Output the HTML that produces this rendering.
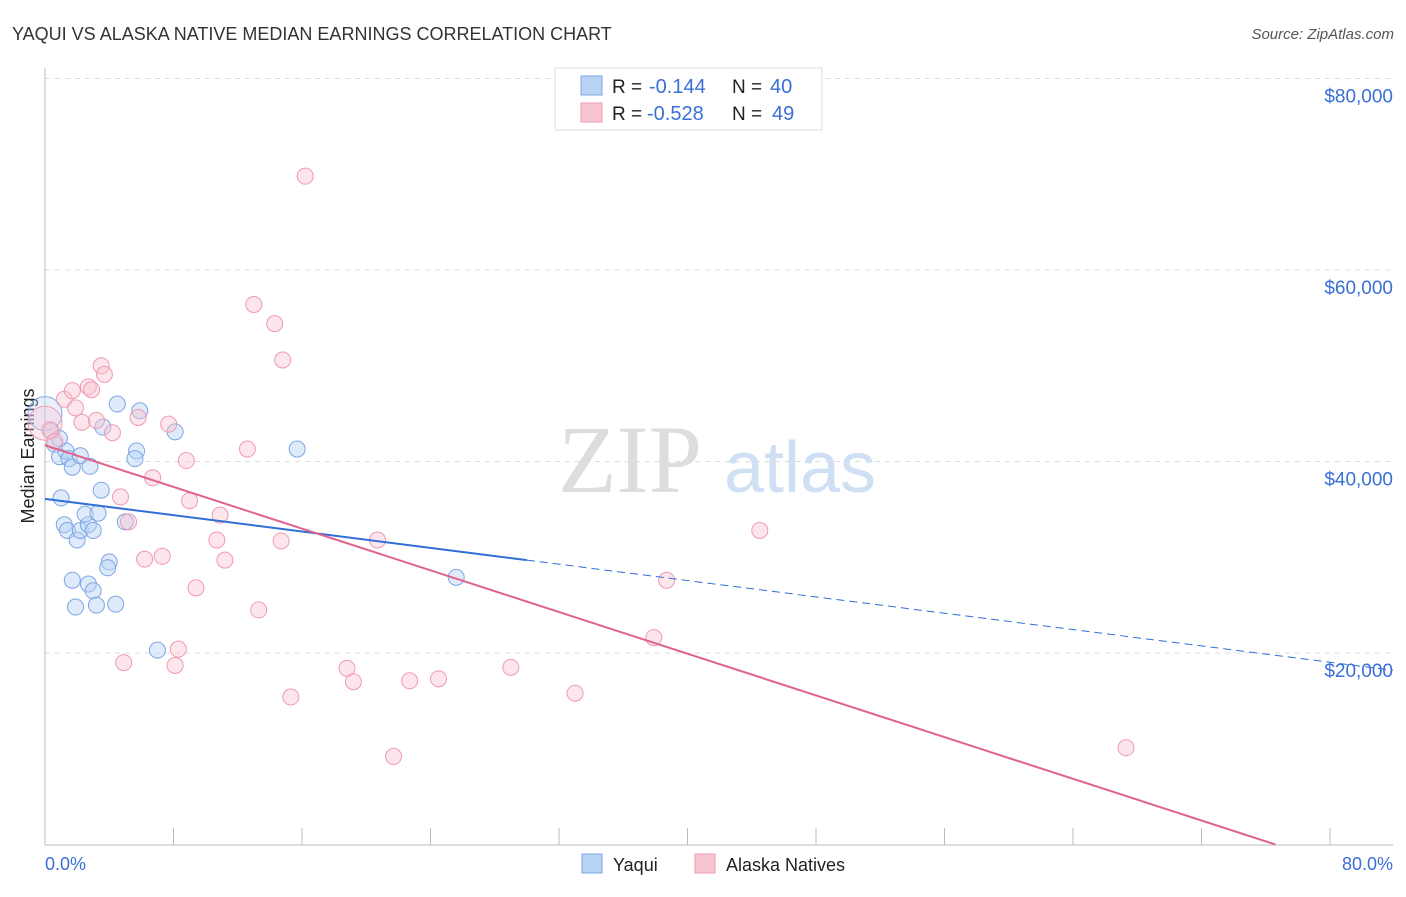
<!DOCTYPE html>
<html><head><meta charset="utf-8"><style>
body{margin:0;background:#fff;font-family:"Liberation Sans",sans-serif}
</style></head><body>
<svg width="1406" height="892" xmlns="http://www.w3.org/2000/svg" font-family="Liberation Sans, sans-serif">
<text x="12" y="40" font-size="18" fill="#333">YAQUI VS ALASKA NATIVE MEDIAN EARNINGS CORRELATION CHART</text>
<text x="1394" y="39" font-size="15" fill="#555" font-style="italic" text-anchor="end">Source: ZipAtlas.com</text>
<g id="grid"></g>
<text x="630" y="492" font-size="96" fill="#ddd" font-family="Liberation Serif, serif" text-anchor="middle">ZIP</text>
<text x="800" y="492" font-size="72" fill="#cfe0f4" text-anchor="middle">atlas</text>
<line x1="45" y1="68" x2="45" y2="845" stroke="#bbb"/>
<line x1="45" y1="845" x2="1393" y2="845" stroke="#bbb"/>
<text x="34" y="456" font-size="18" fill="#222" text-anchor="middle" transform="rotate(-90 34 456)">Median Earnings</text>
<text x="45" y="870" font-size="18" fill="#3a6fd8">0.0%</text>
<text x="1393" y="870" font-size="18" fill="#3a6fd8" text-anchor="end">80.0%</text>
<g id="marks"></g>
<g>
<rect x="555" y="68" width="267" height="62" fill="#fff" stroke="#ddd"/>
<rect x="581" y="76" width="21" height="19" fill="#b9d3f5" stroke="#7da6e5"/>
<rect x="581" y="103" width="21" height="19" fill="#f9c5d3" stroke="#ef9ab3"/>
<text x="612" y="93" font-size="19" fill="#222">R =</text>
<text x="649" y="93" font-size="20" fill="#3a6fd8">-0.144</text>
<text x="732" y="93" font-size="19" fill="#222">N =</text>
<text x="770" y="93" font-size="20" fill="#3a6fd8">40</text>
<text x="612" y="120" font-size="19" fill="#222">R =</text>
<text x="647" y="120" font-size="20" fill="#3a6fd8">-0.528</text>
<text x="732" y="120" font-size="19" fill="#222">N =</text>
<text x="772" y="120" font-size="20" fill="#3a6fd8">49</text>
</g>
<g>
<rect x="582" y="854" width="20" height="19" fill="#b9d3f5" stroke="#7da6e5"/>
<text x="613" y="871" font-size="18" fill="#222">Yaqui</text>
<rect x="695" y="854" width="20" height="19" fill="#f9c5d3" stroke="#ef9ab3"/>
<text x="726" y="871" font-size="18" fill="#222">Alaska Natives</text>
</g>
</svg>
<script>
const yTicks=[20000,40000,60000,80000];
const yTickLabels=["$20,000","$40,000","$60,000","$80,000"];
const xTicks=[0,8,16,24,32,40,48,56,64,72,80];
const yaquiX=[0,0.4,0.6,0.9,1.3,1.5,1.7,2.2,2.8,1.0,1.2,1.4,2.0,2.2,2.7,2.5,3.0,3.3,3.5,3.6,4.5,5.9,5.7,5.6,8.1,5.0,4.0,3.9,1.7,2.7,3.0,1.9,3.2,4.4,7.0,15.7,25.6,0.9];
const yaquiY=[45000,43200,41800,40500,41100,40300,39400,40600,39500,36200,33400,32800,31800,32800,33400,34500,32800,34600,37000,43600,46000,45300,41100,40300,43100,33700,29500,28900,27600,27200,26500,24800,25000,25100,20300,41300,27900,42400];
const alaskaX=[0,0.3,0.6,1.2,1.7,1.9,2.3,2.7,2.9,3.2,3.5,3.7,4.2,4.7,4.9,5.2,5.8,6.2,6.7,7.3,7.7,8.1,8.3,8.8,9.0,9.4,10.7,10.9,11.2,12.6,13.0,13.3,14.3,14.8,14.7,15.3,16.2,18.8,19.2,20.7,21.7,22.7,24.5,29.0,33.0,37.9,38.7,44.5,67.3];
const alaskaY=[44000,43300,42100,46500,47400,45600,44100,47800,47500,44300,50000,49100,43000,36300,19000,33700,44600,29800,38300,30100,43900,18700,20400,40100,35900,26800,31800,34400,29700,41300,56400,24500,54400,50600,31700,15400,69800,18400,17000,31800,9200,17100,17300,18500,15800,21600,27600,32800,10100];
const yaquiLine=[36100,29700];const yaquiLineX=[0,30];
const alaskaLine=[41700,0];const alaskaLineX=[0,76.6];
const NS="http://www.w3.org/2000/svg";
const X=v=>45+v*(1330-45)/80, Y=v=>844.5-v*191.5/20000;
const grid=document.getElementById('grid'), marks=document.getElementById('marks');
function mk(tag,at,parent){const e=document.createElementNS(NS,tag);for(const k in at)e.setAttribute(k,at[k]);parent.appendChild(e);return e;}
yTicks.forEach((t,i)=>{
 const l=mk('line',{x1:45,x2:1393,y1:Y(t),y2:Y(t),stroke:'#ddd','stroke-dasharray':'5,5'},grid);
 
 
 const tx=mk('text',{x:1393,y:Y(t)+24,'font-size':19,fill:'#3a6fd8','text-anchor':'end'},grid);
 tx.textContent=yTickLabels[i];
 
 
});
xTicks.forEach(t=>{
 const l=mk('line',{x1:X(t),x2:X(t),y1:828,y2:845,stroke:'#bbb'},grid);
 
 
});
function pts(xs,ys,fill,stroke,name){
 xs.forEach((x,i)=>{
  const c=mk('circle',{cx:X(x),cy:Y(ys[i]),r:(i==0?17:8),fill:fill,'fill-opacity':(i==0?0.35:0.45),stroke:stroke,'stroke-width':1},marks);
  
  
 });
}
pts(yaquiX,yaquiY,'#b9d3f5','#7da6e5','yaqui-point');
pts(alaskaX,alaskaY,'#f9c5d3','#ef9ab3','alaska-point');
const slope=(yaquiLine[1]-yaquiLine[0])/(yaquiLineX[1]-yaquiLineX[0]);
let l1=mk('line',{x1:X(yaquiLineX[0]),y1:Y(yaquiLine[0]),x2:X(yaquiLineX[1]),y2:Y(yaquiLine[1]),stroke:'#2f6fd6','stroke-width':2},marks);


const xe=(1393-45)*80/1285;
let l2=mk('line',{x1:X(yaquiLineX[1]),y1:Y(yaquiLine[1]),x2:X(xe),y2:Y(yaquiLine[0]+slope*xe),stroke:'#2f6fd6','stroke-width':1,'stroke-dasharray':'8,5'},marks);


let l3=mk('line',{x1:X(alaskaLineX[0]),y1:Y(alaskaLine[0]),x2:X(alaskaLineX[1]),y2:Y(alaskaLine[1]),stroke:'#e0628e','stroke-width':2},marks);


</script>
</body></html>
